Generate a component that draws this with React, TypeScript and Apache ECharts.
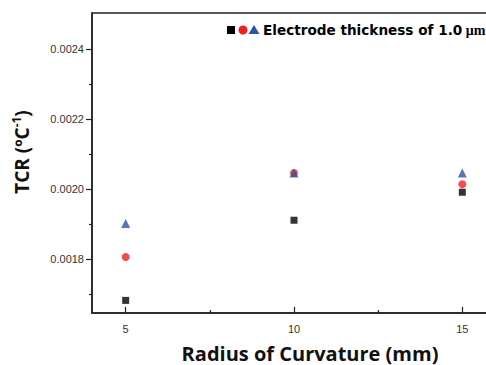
import React, { useEffect, useRef } from "react";
import * as echarts from "echarts";

const radius = [5, 10, 15];
const tcrBlack = [0.001682, 0.001911, 0.001991];
const tcrRed = [0.001806, 0.002046, 0.002014];
const tcrBlue = [0.001902, 0.002046, 0.002046];
const yMajor = [0.0018, 0.002, 0.0022, 0.0024];
const yMinor = [0.0017, 0.0019, 0.0021, 0.0023];
const xMajor = [5, 10, 15];
const xMinor = [7.5, 12.5];
const legendText = "Electrode thickness of 1.0";

const Y_MIN = 0.001646;
const Y_MAX = 0.002503;
const X_MIN = 4;
const X_MAX = 16;

export default function App() {
  const ref = useRef<HTMLDivElement>(null);
  useEffect(() => {
    if (!ref.current) return;
    const chart = echarts.init(ref.current, null, { renderer: "svg" });
    const axisColor = "#222";
    const labelStyle = { color: "#333", fontSize: 11, fontFamily: "Liberation Sans, Arial, sans-serif" };
    chart.setOption({
      animation: false,
      backgroundColor: "#fff",
      grid: {
        left: 92,
        top: 13,
        bottom: 52,
        right: -10,
        outerBoundsMode: "none",
        containLabel: false,
        show: true,
        borderColor: axisColor,
        borderWidth: 1.5,
      },
      xAxis: [
        {
          type: "value",
          min: X_MIN,
          max: X_MAX,
          position: "bottom",
          splitLine: { show: false },
          axisLine: { show: true, lineStyle: { color: axisColor, width: 1.5 } },
          axisTick: { show: true, inside: true, length: 6, customValues: xMajor, lineStyle: { color: axisColor, width: 1.2 } },
          axisLabel: { show: true, customValues: xMajor, margin: 10, ...labelStyle },
        },
        {
          type: "value",
          min: X_MIN,
          max: X_MAX,
          position: "bottom",
          offset: 0,
          splitLine: { show: false },
          axisLine: { show: false },
          axisTick: { show: true, inside: true, length: 3, customValues: xMinor, lineStyle: { color: axisColor, width: 1.2 } },
          axisLabel: { show: false },
        },
      ],
      yAxis: [
        {
          type: "value",
          min: Y_MIN,
          max: Y_MAX,
          position: "left",
          splitLine: { show: false },
          axisLine: { show: true, lineStyle: { color: axisColor, width: 1.5 } },
          axisTick: { show: true, inside: false, length: 6, customValues: yMajor, lineStyle: { color: axisColor, width: 1.2 } },
          axisLabel: {
            show: true,
            customValues: yMajor,
            margin: 8,
            formatter: (v: number) => v.toFixed(4),
            ...labelStyle,
          },
        },
        {
          type: "value",
          min: Y_MIN,
          max: Y_MAX,
          position: "left",
          offset: 0,
          splitLine: { show: false },
          axisLine: { show: false },
          axisTick: { show: true, inside: false, length: 3, customValues: yMinor, lineStyle: { color: axisColor, width: 1.2 } },
          axisLabel: { show: false },
        },
      ],
      series: [
        {
          type: "scatter",
          symbol: "rect",
          symbolSize: 7,
          itemStyle: { color: "#000" },
          data: radius.map((r, i) => [r, tcrBlack[i]]),
        },
        {
          type: "scatter",
          symbol: "circle",
          symbolSize: 8,
          itemStyle: { color: "#ee2024" },
          data: radius.map((r, i) => [r, tcrRed[i]]),
        },
        {
          type: "scatter",
          symbol: "triangle",
          symbolSize: 9,
          itemStyle: { color: "#2a53a6" },
          data: radius.map((r, i) => [r, tcrBlue[i]]),
        },
      ],
      graphic: [
        { type: "rect", shape: { x: 227, y: 26, width: 8, height: 8 }, style: { fill: "#000" } },
        { type: "circle", shape: { cx: 243, cy: 30, r: 4.5 }, style: { fill: "#ee2024" } },
        { type: "polygon", shape: { points: [[254, 25], [259.5, 34], [248.5, 34]] }, style: { fill: "#2a53a6" } },
        {
          type: "text",
          x: 263,
          y: 30,
          style: {
            text: "{a|" + legendText + "}{b| μm}",
            verticalAlign: "middle",
            rich: {
              a: { fontSize: 13.6, fontWeight: "bold", fontFamily: "DejaVu Sans, sans-serif", fill: "#000" },
              b: { fontSize: 14, fontWeight: "bold", fontFamily: "Liberation Serif, DejaVu Serif, serif", fill: "#000" },
            },
          },
        },
        {
          type: "text",
          x: 310,
          y: 353,
          style: {
            text: "Radius of Curvature (mm)",
            align: "center",
            verticalAlign: "middle",
            fontSize: 20,
            fontWeight: "bold",
            fontFamily: "Open Sans, Noto Sans, sans-serif",
            fill: "#111",
          },
        },
        {
          type: "text",
          x: 22,
          y: 152,
          rotation: Math.PI / 2,
          style: {
            text: "{a|TCR (ºC}{s|-1}{a|)}",
            align: "center",
            verticalAlign: "middle",
            rich: {
              a: { fontSize: 19, fontWeight: "bold", fontFamily: "Open Sans, Noto Sans, sans-serif", fill: "#111", lineHeight: 24 },
              s: { fontSize: 12, fontWeight: "bold", fontFamily: "Open Sans, Noto Sans, sans-serif", fill: "#111", verticalAlign: "top", lineHeight: 24, padding: [0, 0, 8, 0] },
            },
          },
        },
      ],
    });
    return () => chart.dispose();
  }, []);
  return <div ref={ref} style={{ width: 486, height: 365, position: "absolute", left: 0, top: 0 }} />;
}
